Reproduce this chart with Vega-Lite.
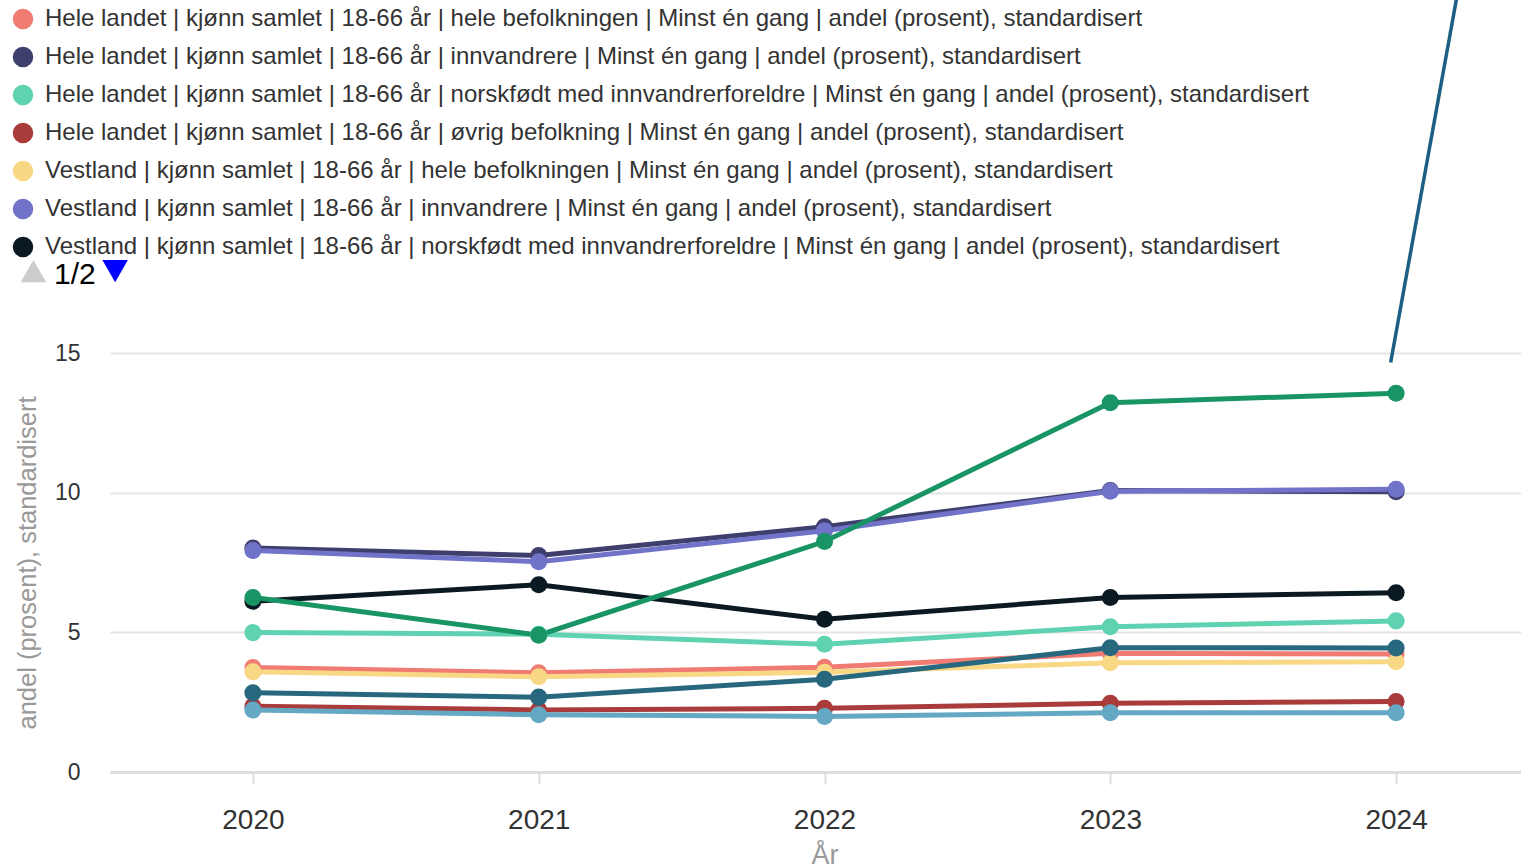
{
  "$schema": "https://vega.github.io/schema/vega-lite/v6.json",
  "width": 1429,
  "height": 419,
  "autosize": {"type": "none"},
  "padding": {"left": 110, "top": 353, "right": 0, "bottom": 95},
  "background": "white",
  "config": {"font": "Liberation Sans", "view": {"stroke": null}},
  "datasets": {
    "main": [
      {"series": "Hele landet | kjønn samlet | 18-66 år | hele befolkningen | Minst én gang | andel (prosent), standardisert", "year": 2020, "value": 3.74},
      {"series": "Hele landet | kjønn samlet | 18-66 år | hele befolkningen | Minst én gang | andel (prosent), standardisert", "year": 2021, "value": 3.55},
      {"series": "Hele landet | kjønn samlet | 18-66 år | hele befolkningen | Minst én gang | andel (prosent), standardisert", "year": 2022, "value": 3.75},
      {"series": "Hele landet | kjønn samlet | 18-66 år | hele befolkningen | Minst én gang | andel (prosent), standardisert", "year": 2023, "value": 4.25},
      {"series": "Hele landet | kjønn samlet | 18-66 år | hele befolkningen | Minst én gang | andel (prosent), standardisert", "year": 2024, "value": 4.22},
      {"series": "Hele landet | kjønn samlet | 18-66 år | innvandrere | Minst én gang | andel (prosent), standardisert", "year": 2020, "value": 8.02},
      {"series": "Hele landet | kjønn samlet | 18-66 år | innvandrere | Minst én gang | andel (prosent), standardisert", "year": 2021, "value": 7.75},
      {"series": "Hele landet | kjønn samlet | 18-66 år | innvandrere | Minst én gang | andel (prosent), standardisert", "year": 2022, "value": 8.78},
      {"series": "Hele landet | kjønn samlet | 18-66 år | innvandrere | Minst én gang | andel (prosent), standardisert", "year": 2023, "value": 10.08},
      {"series": "Hele landet | kjønn samlet | 18-66 år | innvandrere | Minst én gang | andel (prosent), standardisert", "year": 2024, "value": 10.03},
      {"series": "Hele landet | kjønn samlet | 18-66 år | norskfødt med innvandrerforeldre | Minst én gang | andel (prosent), standardisert", "year": 2020, "value": 4.99},
      {"series": "Hele landet | kjønn samlet | 18-66 år | norskfødt med innvandrerforeldre | Minst én gang | andel (prosent), standardisert", "year": 2021, "value": 4.93},
      {"series": "Hele landet | kjønn samlet | 18-66 år | norskfødt med innvandrerforeldre | Minst én gang | andel (prosent), standardisert", "year": 2022, "value": 4.57},
      {"series": "Hele landet | kjønn samlet | 18-66 år | norskfødt med innvandrerforeldre | Minst én gang | andel (prosent), standardisert", "year": 2023, "value": 5.2},
      {"series": "Hele landet | kjønn samlet | 18-66 år | norskfødt med innvandrerforeldre | Minst én gang | andel (prosent), standardisert", "year": 2024, "value": 5.41},
      {"series": "Hele landet | kjønn samlet | 18-66 år | øvrig befolkning | Minst én gang | andel (prosent), standardisert", "year": 2020, "value": 2.35},
      {"series": "Hele landet | kjønn samlet | 18-66 år | øvrig befolkning | Minst én gang | andel (prosent), standardisert", "year": 2021, "value": 2.22},
      {"series": "Hele landet | kjønn samlet | 18-66 år | øvrig befolkning | Minst én gang | andel (prosent), standardisert", "year": 2022, "value": 2.28},
      {"series": "Hele landet | kjønn samlet | 18-66 år | øvrig befolkning | Minst én gang | andel (prosent), standardisert", "year": 2023, "value": 2.46},
      {"series": "Hele landet | kjønn samlet | 18-66 år | øvrig befolkning | Minst én gang | andel (prosent), standardisert", "year": 2024, "value": 2.52},
      {"series": "Vestland | kjønn samlet | 18-66 år | hele befolkningen | Minst én gang | andel (prosent), standardisert", "year": 2020, "value": 3.59},
      {"series": "Vestland | kjønn samlet | 18-66 år | hele befolkningen | Minst én gang | andel (prosent), standardisert", "year": 2021, "value": 3.41},
      {"series": "Vestland | kjønn samlet | 18-66 år | hele befolkningen | Minst én gang | andel (prosent), standardisert", "year": 2022, "value": 3.57},
      {"series": "Vestland | kjønn samlet | 18-66 år | hele befolkningen | Minst én gang | andel (prosent), standardisert", "year": 2023, "value": 3.91},
      {"series": "Vestland | kjønn samlet | 18-66 år | hele befolkningen | Minst én gang | andel (prosent), standardisert", "year": 2024, "value": 3.95},
      {"series": "Vestland | kjønn samlet | 18-66 år | innvandrere | Minst én gang | andel (prosent), standardisert", "year": 2020, "value": 7.93},
      {"series": "Vestland | kjønn samlet | 18-66 år | innvandrere | Minst én gang | andel (prosent), standardisert", "year": 2021, "value": 7.53},
      {"series": "Vestland | kjønn samlet | 18-66 år | innvandrere | Minst én gang | andel (prosent), standardisert", "year": 2022, "value": 8.64},
      {"series": "Vestland | kjønn samlet | 18-66 år | innvandrere | Minst én gang | andel (prosent), standardisert", "year": 2023, "value": 10.05},
      {"series": "Vestland | kjønn samlet | 18-66 år | innvandrere | Minst én gang | andel (prosent), standardisert", "year": 2024, "value": 10.12},
      {"series": "Vestland | kjønn samlet | 18-66 år | norskfødt med innvandrerforeldre | Minst én gang | andel (prosent), standardisert", "year": 2020, "value": 6.11},
      {"series": "Vestland | kjønn samlet | 18-66 år | norskfødt med innvandrerforeldre | Minst én gang | andel (prosent), standardisert", "year": 2021, "value": 6.7},
      {"series": "Vestland | kjønn samlet | 18-66 år | norskfødt med innvandrerforeldre | Minst én gang | andel (prosent), standardisert", "year": 2022, "value": 5.47},
      {"series": "Vestland | kjønn samlet | 18-66 år | norskfødt med innvandrerforeldre | Minst én gang | andel (prosent), standardisert", "year": 2023, "value": 6.25},
      {"series": "Vestland | kjønn samlet | 18-66 år | norskfødt med innvandrerforeldre | Minst én gang | andel (prosent), standardisert", "year": 2024, "value": 6.42},
      {"series": "Vestland | kjønn samlet | 18-66 år | øvrig befolkning | Minst én gang | andel (prosent), standardisert", "year": 2020, "value": 2.22},
      {"series": "Vestland | kjønn samlet | 18-66 år | øvrig befolkning | Minst én gang | andel (prosent), standardisert", "year": 2021, "value": 2.05},
      {"series": "Vestland | kjønn samlet | 18-66 år | øvrig befolkning | Minst én gang | andel (prosent), standardisert", "year": 2022, "value": 1.99},
      {"series": "Vestland | kjønn samlet | 18-66 år | øvrig befolkning | Minst én gang | andel (prosent), standardisert", "year": 2023, "value": 2.12},
      {"series": "Vestland | kjønn samlet | 18-66 år | øvrig befolkning | Minst én gang | andel (prosent), standardisert", "year": 2024, "value": 2.12},
      {"series": "Serie 9", "year": 2020, "value": 6.25},
      {"series": "Serie 9", "year": 2021, "value": 4.9},
      {"series": "Serie 9", "year": 2022, "value": 8.25},
      {"series": "Serie 9", "year": 2023, "value": 13.22},
      {"series": "Serie 9", "year": 2024, "value": 13.56},
      {"series": "Serie 10", "year": 2020, "value": 2.84},
      {"series": "Serie 10", "year": 2021, "value": 2.68},
      {"series": "Serie 10", "year": 2022, "value": 3.32},
      {"series": "Serie 10", "year": 2023, "value": 4.45},
      {"series": "Serie 10", "year": 2024, "value": 4.44}
    ],
    "stray": [
      {"year": 2023.981, "value": 14.66},
      {"year": 2024.217, "value": 28.0}
    ]
  },
  "layer": [
    {
      "data": {"name": "main"},
      "mark": {"type": "line", "strokeWidth": 5, "point": {"filled": true, "size": 290, "opacity": 1}},
      "encoding": {
        "x": {"field": "year", "type": "quantitative", "title": "År",
              "scale": {"domain": [2019.5, 2024.5], "nice": false, "zero": false},
              "axis": {"values": [2020, 2021, 2022, 2023, 2024], "format": "d", "grid": false,
                       "domainColor": "#dcdcdc", "domainWidth": 3, "tickColor": "#dcdcdc", "tickWidth": 2, "tickSize": 12,
                       "labelFontSize": 28, "labelColor": "#333333", "labelPadding": 22, "labelFont": "Liberation Sans",
                       "titleFontSize": 27, "titleColor": "#999999", "titleFontWeight": "normal", "titlePadding": 8, "titleFont": "Liberation Sans"}},
        "y": {"field": "value", "type": "quantitative", "title": "andel (prosent), standardisert",
              "scale": {"domain": [0, 15], "nice": false, "zero": true},
              "axis": {"values": [0, 5, 10, 15], "grid": true, "gridColor": "#e4e4e4", "gridWidth": 2,
                       "ticks": false, "domain": false, "labelFontSize": 23, "labelColor": "#333333", "labelPadding": 30,
                       "labelFont": "Liberation Sans",
                       "titleFontSize": 25.5, "titleColor": "#999999", "titleFontWeight": "normal", "titlePadding": 14, "titleFont": "Liberation Sans"}},
        "color": {"field": "series", "type": "nominal", "sort": null,
                  "scale": {"domain": [
                    "Hele landet | kjønn samlet | 18-66 år | hele befolkningen | Minst én gang | andel (prosent), standardisert",
                    "Hele landet | kjønn samlet | 18-66 år | innvandrere | Minst én gang | andel (prosent), standardisert",
                    "Hele landet | kjønn samlet | 18-66 år | norskfødt med innvandrerforeldre | Minst én gang | andel (prosent), standardisert",
                    "Hele landet | kjønn samlet | 18-66 år | øvrig befolkning | Minst én gang | andel (prosent), standardisert",
                    "Vestland | kjønn samlet | 18-66 år | hele befolkningen | Minst én gang | andel (prosent), standardisert",
                    "Vestland | kjønn samlet | 18-66 år | innvandrere | Minst én gang | andel (prosent), standardisert",
                    "Vestland | kjønn samlet | 18-66 år | norskfødt med innvandrerforeldre | Minst én gang | andel (prosent), standardisert",
                    "Vestland | kjønn samlet | 18-66 år | øvrig befolkning | Minst én gang | andel (prosent), standardisert",
                    "Serie 9",
                    "Serie 10"],
                    "range": ["#ef7b72", "#3f3f6e", "#5fd3b1", "#a93c3b", "#f8d785", "#7073c8", "#0b1a22", "#64a8c4", "#199565", "#28687f"]},
                  "legend": {
                    "orient": "none", "legendX": -99, "legendY": -346, "title": null, "padding": 0,
                    "values": [
                      "Hele landet | kjønn samlet | 18-66 år | hele befolkningen | Minst én gang | andel (prosent), standardisert",
                      "Hele landet | kjønn samlet | 18-66 år | innvandrere | Minst én gang | andel (prosent), standardisert",
                      "Hele landet | kjønn samlet | 18-66 år | norskfødt med innvandrerforeldre | Minst én gang | andel (prosent), standardisert",
                      "Hele landet | kjønn samlet | 18-66 år | øvrig befolkning | Minst én gang | andel (prosent), standardisert",
                      "Vestland | kjønn samlet | 18-66 år | hele befolkningen | Minst én gang | andel (prosent), standardisert",
                      "Vestland | kjønn samlet | 18-66 år | innvandrere | Minst én gang | andel (prosent), standardisert",
                      "Vestland | kjønn samlet | 18-66 år | norskfødt med innvandrerforeldre | Minst én gang | andel (prosent), standardisert"],
                    "symbolType": "circle", "symbolSize": 420, "symbolStrokeWidth": 0,
                    "labelFontSize": 24, "labelColor": "#333333", "labelFont": "Liberation Sans", "labelLimit": 0, "labelOffset": 10,
                    "rowPadding": 14,
                    "encode": {"symbols": {"update": {"fill": {"scale": "color", "field": "value"}, "strokeWidth": {"value": 0}, "opacity": {"value": 1}}}}
                  }}
      }
    },
    {
      "data": {"name": "stray"},
      "mark": {"type": "line", "strokeWidth": 3.5, "color": "#1b5f82", "clip": false},
      "encoding": {
        "x": {"field": "year", "type": "quantitative", "title": "År", "scale": {"domain": [2019.5, 2024.5], "nice": false, "zero": false}},
        "y": {"field": "value", "type": "quantitative", "title": "andel (prosent), standardisert", "scale": {"domain": [0, 15], "nice": false, "zero": true}}
      }
    },
    {
      "data": {"values": [{}]},
      "mark": {"type": "point", "shape": "triangle-up", "filled": true, "size": 650, "color": "#cccccc", "opacity": 1, "clip": false},
      "encoding": {
        "x": {"datum": 2019.232, "type": "quantitative"},
        "y": {"datum": 17.93, "type": "quantitative"}
      }
    },
    {
      "data": {"values": [{}]},
      "mark": {"type": "text", "text": "1/2", "align": "left", "baseline": "alphabetic", "fontSize": 30, "font": "Liberation Sans", "color": "#000000", "clip": false},
      "encoding": {
        "x": {"datum": 2019.304, "type": "quantitative"},
        "y": {"datum": 17.47, "type": "quantitative"}
      }
    },
    {
      "data": {"values": [{}]},
      "mark": {"type": "point", "shape": "triangle-down", "filled": true, "size": 650, "color": "#0000ff", "opacity": 1, "clip": false},
      "encoding": {
        "x": {"datum": 2019.518, "type": "quantitative"},
        "y": {"datum": 17.93, "type": "quantitative"}
      }
    }
  ]
}
